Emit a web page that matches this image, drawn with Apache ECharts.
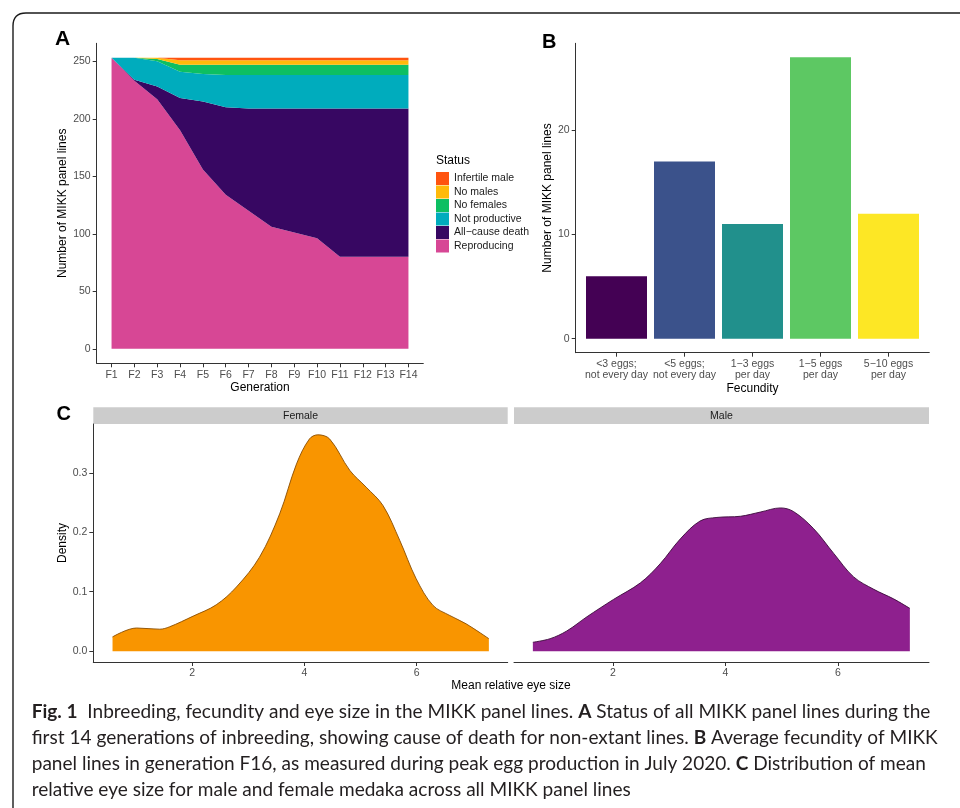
<!DOCTYPE html>
<html><head><meta charset="utf-8">
<script src="https://cdn.jsdelivr.net/npm/echarts@6/dist/echarts.min.js"></script>
<style>html,body{margin:0;padding:0;background:#fff}#c{width:960px;height:808px}</style>
</head><body><div id="c"></div>
<script>
// ---------- DATA ----------
const generations = ['F1','F2','F3','F4','F5','F6','F7','F8','F9','F10','F11','F12','F13','F14'];
const reproducing   = [253,233,217,190,156,134,120,106,101,96,80,80,80,80];
const allCauseDeath = [0,1,11,28,59,76,89,103,108,113,129,129,129,129];
const notProductive = [0,19,22,23,24,28,29,29,29,29,29,29,29,29];
const noFemales     = [0,0,2,6,8,9,9,9,9,9,9,9,9,9];
const noMales       = [0,0,1,4,4,4,4,4,4,4,4,4,4,4];
const infertileMale = [0,0,0,2,2,2,2,2,2,2,2,2,2,2];
const statusNames = ['Reproducing','All\u2212cause death','Not productive','No females','No males','Infertile male'];
const ticksA = [0,50,100,150,200,250];

const fecundityCategories = ['<3 eggs;\nnot every day','<5 eggs;\nnot every day','1\u22123 eggs\nper day','1\u22125 eggs\nper day','5\u221210 eggs\nper day'];
const fecundityCounts = [6,17,11,27,12];
const ticksB = [0,10,20];

const femaleEye     = [0.584,1.01,1.425,1.60,2.02,2.43,2.79,3.20,3.56,3.86,4.09,4.24,4.45,4.81,5.10,5.40,5.70,5.99,6.29,6.59,6.88,7.285];
const femaleDensity = [0.024,0.039,0.037,0.041,0.059,0.078,0.108,0.158,0.231,0.315,0.357,0.364,0.357,0.304,0.276,0.245,0.186,0.122,0.077,0.060,0.046,0.021];
const maleEye       = [0.577,0.884,1.18,1.54,2.01,2.49,2.84,3.20,3.55,3.85,4.27,4.62,4.98,5.21,5.57,5.93,6.28,6.64,6.99,7.28];
const maleDensity   = [0.015,0.021,0.034,0.058,0.087,0.115,0.147,0.189,0.219,0.225,0.227,0.234,0.241,0.235,0.206,0.164,0.125,0.104,0.088,0.072];
const ticksCx = [2,4,6];
const ticksCy = [0,0.1,0.2,0.3];

const captionLines = [
  [['Fig. 1',1],['  Inbreeding, fecundity and eye size in the MIKK panel lines. ',0],['A',1],[' Status of all MIKK panel lines during the',0]],
  [['first 14 generations of inbreeding, showing cause of death for non-extant lines. ',0],['B',1],[' Average fecundity of MIKK',0]],
  [['panel lines in generation F16, as measured during peak egg production in July 2020. ',0],['C',1],[' Distribution of mean',0]],
  [['relative eye size for male and female medaka across all MIKK panel lines',0]]
];

// ---------- STYLES ----------
const statusColors = ['#D74795','#370762','#00ACBD','#0DBF62','#FFBA0A','#FF540F'];
const viridis5 = ['#440154','#3B528B','#21908C','#5DC863','#FDE725'];
const FONT = '"Liberation Sans", Arial, sans-serif';
const AX = '#333333';
const LBL = '#4d4d4d';

function valAxis(gridIndex, min, max, ticks, fmt, extra) {
  return Object.assign({
    type: 'value', gridIndex, min, max,
    axisLine: {show: true, onZero: false, lineStyle: {color: AX, width: 1}},
    axisTick: {show: true, length: 4, customValues: ticks, lineStyle: {color: AX, width: 1}},
    axisLabel: {customValues: ticks, formatter: fmt, fontSize: 10.5, color: LBL, fontFamily: FONT, margin: 6},
    splitLine: {show: false},
    nameTextStyle: {fontSize: 12, color: '#000', fontFamily: FONT}
  }, extra || {});
}

// ranges with ggplot-like 5% expansion
const totalA = reproducing[0];
const aY = [-0.05*totalA, totalA*1.05];
const aX = [1 - 0.05*13, 14 + 0.05*13];
const maxB = Math.max(...fecundityCounts);
const bY = [-0.05*maxB, maxB*1.05];
const bX = [0.4, fecundityCategories.length + 0.6];
const cxMin = Math.min(femaleEye[0], maleEye[0]);
const cxMax = Math.max(femaleEye[femaleEye.length-1], maleEye[maleEye.length-1]);
const cxPad = 0.05*(cxMax - cxMin);
const cX = [cxMin - cxPad, cxMax + cxPad];
const cyMax = Math.max(...femaleDensity, ...maleDensity);
const cY = [-0.05*cyMax, cyMax*1.05];

const statusData = [reproducing, allCauseDeath, notProductive, noFemales, noMales, infertileMale];

// grid A geometry: the visible axes span the expanded range; the area layer spans F1..F14 exactly
const gA = {left: 96.7, top: 43.3, width: 326.6, height: 320};
const aUnit = gA.width / (aX[1] - aX[0]);
const gA2 = {left: gA.left + (1 - aX[0]) * aUnit, top: gA.top, width: 13 * aUnit, height: gA.height};

// caption font fitting
const meas = document.createElement('canvas').getContext('2d');
const CAPFONT = 'Lato';
function lineWidth(line, size) {
  let w = 0;
  line.forEach(([t,b]) => { meas.font = (b ? 'bold ' : '') + size + 'px ' + CAPFONT; w += meas.measureText(t).width; });
  return w;
}
const capSize = Math.min(...captionLines.slice(0, 3).map(l => 100 * 907 / lineWidth(l, 100)));
const capRich = {
  b: {fontFamily: CAPFONT, fontWeight: 'bold', fontSize: capSize, fill: '#231f20'},
  r: {fontFamily: CAPFONT, fontWeight: 'normal', fontSize: capSize, fill: '#231f20'}
};
const captionGraphics = captionLines.map((line, i) => ({
  type: 'text', x: 31.7, y: 712 + i*26,
  style: {
    text: line.map(([t,b]) => '{' + (b ? 'b' : 'r') + '|' + t + '}').join(''),
    rich: capRich, verticalAlign: 'middle', fontSize: capSize, fontFamily: CAPFONT
  }
}));

const chart = echarts.init(document.getElementById('c'), null, {renderer: 'canvas'});
chart.setOption({
  animation: false,
  backgroundColor: '#fff',
  grid: [
    Object.assign({outerBoundsMode: 'none'}, gA),
    {left: 575.7, top: 43.3, width: 353.6, height: 309.4, outerBoundsMode: 'none'},
    {left: 93.3, top: 424, width: 414.4, height: 238, outerBoundsMode: 'none'},
    {left: 514, top: 424, width: 415, height: 238, outerBoundsMode: 'none'},
    Object.assign({outerBoundsMode: 'none'}, gA2)
  ],
  xAxis: [
    valAxis(0, aX[0], aX[1], generations.map((g,i)=>i+1), v => generations[Math.round(v)-1],
      {name: 'Generation', nameLocation: 'middle', nameGap: 18}),
    valAxis(1, bX[0], bX[1], fecundityCategories.map((c,i)=>i+1), v => fecundityCategories[Math.round(v)-1],
      {name: 'Fecundity', nameLocation: 'middle', nameGap: 30}),
    valAxis(2, cX[0], cX[1], ticksCx, v => String(v), {}),
    valAxis(3, cX[0], cX[1], ticksCx, v => String(v), {}),
    {type: 'category', gridIndex: 4, data: generations, boundaryGap: false, show: false}
  ],
  yAxis: [
    valAxis(0, aY[0], aY[1], ticksA, v => String(v),
      {name: 'Number of MIKK panel lines', nameLocation: 'middle', nameGap: 28}),
    valAxis(1, bY[0], bY[1], ticksB, v => String(v),
      {name: 'Number of MIKK panel lines', nameLocation: 'middle', nameGap: 21}),
    valAxis(2, cY[0], cY[1], ticksCy, v => v.toFixed(1),
      {name: 'Density', nameLocation: 'middle', nameGap: 24}),
    valAxis(3, cY[0], cY[1], ticksCy, v => v.toFixed(1), {show: false}),
    {type: 'value', gridIndex: 4, min: aY[0], max: aY[1], show: false, splitLine: {show: false}}
  ],
  legend: {
    orient: 'vertical', left: 436, top: 172, padding: 0,
    itemWidth: 13, itemHeight: 13, itemGap: 0.5, icon: 'rect',
    selectedMode: false,
    data: statusNames.slice().reverse(),
    itemStyle: {borderWidth: 0},
    textStyle: {fontSize: 10.5, color: '#1a1a1a', fontFamily: FONT}
  },
  series: [
    ...statusNames.map((n, k) => ({
      name: n, type: 'line', stack: 'status', xAxisIndex: 4, yAxisIndex: 4,
      data: statusData[k],
      symbol: 'none', silent: true,
      lineStyle: {width: 0, opacity: 0},
      itemStyle: {color: statusColors[k]},
      areaStyle: {color: statusColors[k], opacity: 1}
    })),
    {
      type: 'bar', xAxisIndex: 1, yAxisIndex: 1, barWidth: 61, silent: true,
      data: fecundityCounts.map((v, i) => ({value: [i+1, v], itemStyle: {color: viridis5[i]}}))
    },
    {
      type: 'line', xAxisIndex: 2, yAxisIndex: 2, smooth: 0.35, symbol: 'none', silent: true,
      data: femaleEye.map((x, i) => [x, femaleDensity[i]]),
      lineStyle: {color: '#8a4d00', width: 0.9},
      areaStyle: {color: '#F99500', opacity: 1}
    },
    {
      type: 'line', xAxisIndex: 3, yAxisIndex: 3, smooth: 0.35, symbol: 'none', silent: true,
      data: maleEye.map((x, i) => [x, maleDensity[i]]),
      lineStyle: {color: '#3a0a3a', width: 0.9},
      areaStyle: {color: '#8E208E', opacity: 1}
    }
  ],
  graphic: [
    {type: 'line', shape: {x1: 13, y1: 26, x2: 13, y2: 808}, style: {stroke: '#1a1a1a', lineWidth: 1.4}},
    {type: 'line', shape: {x1: 26, y1: 13, x2: 960, y2: 13}, style: {stroke: '#1a1a1a', lineWidth: 1.4}},
    {type: 'bezierCurve', shape: {x1: 13, y1: 26, cpx1: 13, cpy1: 13, x2: 26, y2: 13}, style: {stroke: '#1a1a1a', lineWidth: 1.4, fill: null}},
    {type: 'text', x: 55, y: 39.5, style: {text: 'A', fontSize: 21, fontWeight: 'bold', fontFamily: FONT, fill: '#000', verticalAlign: 'middle'}},
    {type: 'text', x: 542, y: 42.5, style: {text: 'B', fontSize: 20, fontWeight: 'bold', fontFamily: FONT, fill: '#000', verticalAlign: 'middle'}},
    {type: 'text', x: 56.5, y: 414, style: {text: 'C', fontSize: 20, fontWeight: 'bold', fontFamily: FONT, fill: '#000', verticalAlign: 'middle'}},
    {type: 'text', x: 436, y: 161, style: {text: 'Status', fontSize: 12, fontFamily: FONT, fill: '#000', verticalAlign: 'middle'}},
    {type: 'rect', shape: {x: 93.3, y: 407.3, width: 414.4, height: 16.7}, style: {fill: '#cccccc'}},
    {type: 'rect', shape: {x: 514, y: 407.3, width: 415, height: 16.7}, style: {fill: '#cccccc'}},
    {type: 'text', x: 300.5, y: 415.7, style: {text: 'Female', fontSize: 10.5, fontFamily: FONT, fill: '#1a1a1a', align: 'center', verticalAlign: 'middle'}},
    {type: 'text', x: 721.5, y: 415.7, style: {text: 'Male', fontSize: 10.5, fontFamily: FONT, fill: '#1a1a1a', align: 'center', verticalAlign: 'middle'}},
    {type: 'text', x: 511, y: 686, style: {text: 'Mean relative eye size', fontSize: 12, fontFamily: FONT, fill: '#000', align: 'center', verticalAlign: 'middle'}},
    ...captionGraphics
  ]
});
</script></body></html>
